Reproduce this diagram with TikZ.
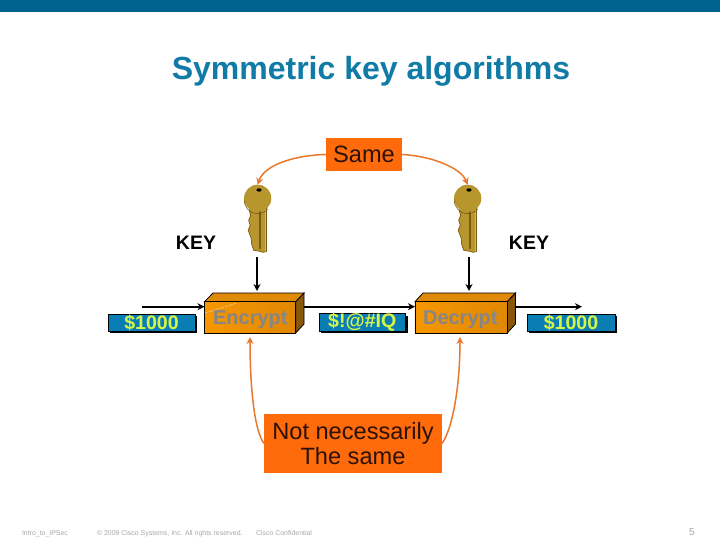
\documentclass[tikz,border=0pt]{standalone}
\usepackage{fontspec}
\setmainfont{Liberation Sans}
\usetikzlibrary{arrows.meta,calc,shadows}
\definecolor{barblue}{HTML}{00628F}
\definecolor{titleblue}{HTML}{0F7BA6}
\definecolor{boxorange}{HTML}{FF6A0A}
\definecolor{linkorange}{HTML}{E8782E}
\definecolor{lblblue}{HTML}{0A7DB5}
\definecolor{lblyellow}{HTML}{D6F545}
\definecolor{keygold}{HTML}{B8962E}
\definecolor{keydark}{HTML}{7A5A10}
\definecolor{boxfront}{HTML}{F69600}
\definecolor{boxfrontb}{HTML}{E08806}
\definecolor{boxtop}{HTML}{E08A0A}
\definecolor{boxside}{HTML}{8A5608}
\definecolor{foot}{HTML}{A8A8A8}
\definecolor{ink}{HTML}{2A1206}
\definecolor{cubetext}{HTML}{868686}
\tikzset{
  every node/.style={inner sep=0pt,outer sep=0pt},
  orangebox/.style={fill=boxorange,text=ink,font=\fontsize{23.6}{26}\selectfont,align=center},
  moneylabel/.style={fill=lblblue,draw=black,line width=0.5pt,text=lblyellow,
     font=\fontsize{19.6}{21}\selectfont\bfseries,minimum height=17pt},
  cubefront/.style={draw=black,line width=0.8pt,left color=boxfront,right color=boxfrontb,
     minimum height=31.5pt},
  cubetextstyle/.style={text=cubetext,font=\fontsize{20}{22}\selectfont\bfseries},
  flow/.style={draw=black,line width=1.7pt,-{Stealth[length=7pt,width=7pt]}},
  linkarc/.style={draw=linkorange,line width=1.5pt,-{Stealth[length=7pt,width=7pt]}},
  keylabel/.style={font=\fontsize{19.5}{21}\selectfont\bfseries,text=black},
  keyhead/.style={circle,fill=keygold,minimum size=27pt},
  footer/.style={text=foot,font=\fontsize{6.95}{8}\selectfont,anchor=base west}
}
\newcommand{\keybody}[1]{%
  \begin{scope}[shift={(#1)}]
    \fill[keygold]
      (-8,4) -- (-8.5,12) -- (-7,17) -- (-9,22) -- (-7.5,27) -- (-9.5,32) -- (-6.5,40)
      -- (-6,46) -- (-4,52) -- (2,53) -- (5.5,54) -- (8,53.5) -- (8,5) -- cycle;
    \draw[keydark,line width=0.7pt]
      (-8.5,12) -- (-7,17) -- (-9,22) -- (-7.5,27) -- (-9.5,32) -- (-6.5,40)
      -- (-6,46) -- (-4,52) -- (2,53) -- (5.5,54) -- (8,53.5);
    \fill[keydark] (1.5,10) rectangle (3.2,51);
    \fill[keydark] (8,4) rectangle (8.7,53.5);
    \fill[keygold] (0,0) circle (13.5pt);
    \draw[keydark,line width=0.6pt] (-13.4,1) arc[start angle=176,end angle=320,radius=13.4pt];
    \fill[black] (1.3,-8.3) ellipse (2.6pt and 1.7pt);
  \end{scope}}
\begin{document}
\begin{tikzpicture}[x=1pt,y=-1pt]
\useasboundingbox (0,0) rectangle (720,540);
\fill[white] (0,0) rectangle (720,540);
\fill[barblue] (0,0) rectangle (720,12);
\node[text=titleblue,font=\fontsize{32}{34}\selectfont\bfseries] (title) at (371,71.5) {Symmetric key algorithms};

% keys
\node[keyhead] (keyL) at (257.7,198.3) {};
\keybody{257.7,198.3}
\node[keyhead] (keyR) at (467.7,198.3) {};
\keybody{467.7,198.3}
\coordinate (keyLb) at (257,257);
\coordinate (keyRb) at (469,257);

\node[keylabel] (keyLt) at (196,243) {KEY};
\node[keylabel] (keyRt) at (529,243) {KEY};

% cubes
\fill[boxtop,draw=black,line width=0.8pt] (204.5,301.7) -- (213,293) -- (304,293) -- (295.7,301.7) -- cycle;
\fill[boxside,draw=black,line width=0.8pt] (295.7,301.7) -- (304,293) -- (304,324) -- (295.7,333) -- cycle;
\node[cubefront,minimum width=91.2pt] (enc) at (250.1,317.3) {};
\draw[white,densely dotted,line width=0.6pt] (205,313) -- (237,303);
\node[cubetextstyle] (enctext) at (250.3,319.5) {Encrypt};

\fill[boxtop,draw=black,line width=0.8pt] (415,301.7) -- (423,293) -- (515.5,293) -- (507.3,301.7) -- cycle;
\fill[boxside,draw=black,line width=0.8pt] (507.3,301.7) -- (515.5,293) -- (515.5,324) -- (507.3,333) -- cycle;
\node[cubefront,minimum width=92.3pt] (dec) at (461.1,317.3) {};
\node[cubetextstyle] (dectext) at (460.3,319.5) {Decrypt};

% money labels
\fill[black] (110,316) rectangle (197,333);
\node[moneylabel,minimum width=87pt] (plain) at (151.5,322.5) {\raisebox{-2pt}{\$1000}};
\fill[black] (321,316) rectangle (407.7,333);
\node[moneylabel,minimum width=86.7pt] (cipher) at (362.3,322.5) {\raisebox{-2pt}{\$!@\#IQ}};
\fill[black] (529,316) rectangle (617,333);
\node[moneylabel,minimum width=88pt] (plainb) at (571,322.5) {\raisebox{-2pt}{\$1000}};

% flows
\coordinate (inS) at (142,306.7);
\coordinate (outE) at (582,306.7);
\draw[flow] (inS) -- (enc.west |- inS);
\draw[flow] (304,306.7) -- (dec.west |- inS);
\draw[flow] (516,306.7) -- (outE);
\draw[flow] (keyLb) -- (keyLb |- 0,291);
\draw[flow] (keyRb) -- (keyRb |- 0,291);

% same
\node[orangebox,minimum width=76pt,minimum height=33pt] (same) at (364,154.5) {Same};
\draw[linkarc] (same.west) .. controls (295,155) and (264,165) .. (keyL.north);
\draw[linkarc] (same.east) .. controls (432,156) and (461,168) .. (keyR.north);

% not necessarily
\node[orangebox,minimum width=178pt,minimum height=59pt] (notsame) at (353,443.5) {Not necessarily\\[-0.5pt]The same};
\draw[linkarc] (notsame.west) .. controls (254,430) and (250,385) .. (250,337);
\draw[linkarc] (notsame.east) .. controls (453,428) and (460,385) .. (460,337);

% footer
\node[footer] (f1) at (22,535) {Intro\_to\_IPSec};
\node[footer] (f2) at (97,535) {© 2009 Cisco Systems, Inc. All rights reserved.};
\node[footer] (f3) at (256,535) {Cisco Confidential};
\node[text=foot,font=\fontsize{10}{12}\selectfont,anchor=base west] (f4) at (689,535) {5};
\end{tikzpicture}
\end{document}
